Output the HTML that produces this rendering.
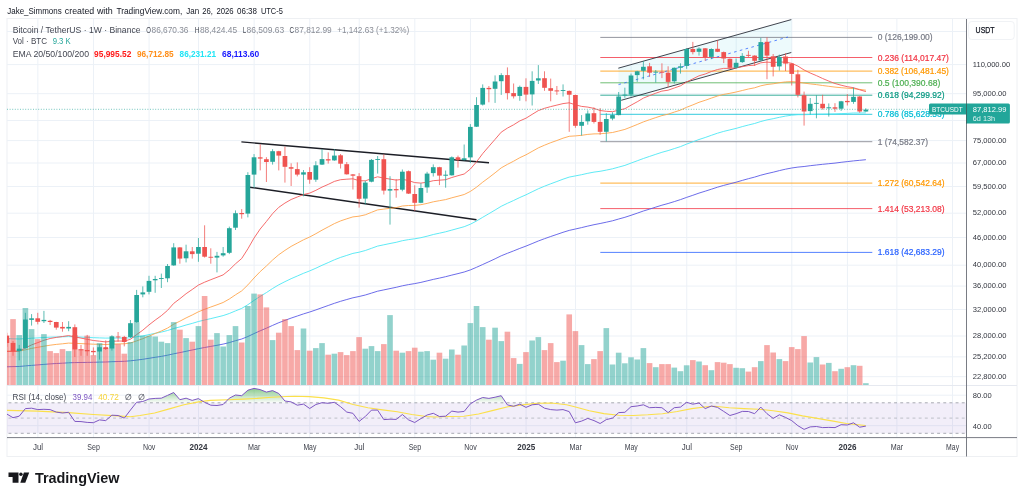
<!DOCTYPE html>
<html><head><meta charset="utf-8"><title>BTCUSDT chart</title>
<style>html,body{margin:0;padding:0;background:#fff}body{width:1024px;height:499px;overflow:hidden;position:relative;font-family:"Liberation Sans",sans-serif}</style></head>
<body>
<svg width="1024" height="499" viewBox="0 0 1024 499" style="position:absolute;left:0;top:0;will-change:transform;font-family:'Liberation Sans',sans-serif">
<defs>
<clipPath id="cm"><rect x="7" y="18.5" width="959.7" height="367.0"/></clipPath>
<clipPath id="cr"><rect x="7" y="385.5" width="959.7" height="52.10000000000002"/></clipPath>
<clipPath id="c70"><rect x="7" y="385.5" width="959.7" height="17.30000000000001"/></clipPath>
<linearGradient id="gg" x1="0" y1="0" x2="0" y2="1" gradientUnits="userSpaceOnUse" ><stop offset="0" stop-color="#4caf50" stop-opacity="1"/></linearGradient>
<linearGradient id="gr" gradientUnits="userSpaceOnUse" x1="0" y1="386" x2="0" y2="402.8"><stop offset="0" stop-color="#4caf50" stop-opacity="0.75"/><stop offset="1" stop-color="#4caf50" stop-opacity="0.03"/></linearGradient>
</defs>
<rect width="1024" height="499" fill="#fff"/>
<rect x="7" y="18.5" width="1010" height="438.0" fill="#fff" stroke="#eef0f3" stroke-width="1"/>
<line x1="37.85" y1="18.5" x2="37.85" y2="437.6" stroke="#ecf1f7" stroke-width="1"/>
<line x1="93.46999999999998" y1="18.5" x2="93.46999999999998" y2="437.6" stroke="#ecf1f7" stroke-width="1"/>
<line x1="149.08999999999997" y1="18.5" x2="149.08999999999997" y2="437.6" stroke="#ecf1f7" stroke-width="1"/>
<line x1="198.52999999999997" y1="18.5" x2="198.52999999999997" y2="437.6" stroke="#ecf1f7" stroke-width="1"/>
<line x1="254.14999999999998" y1="18.5" x2="254.14999999999998" y2="437.6" stroke="#ecf1f7" stroke-width="1"/>
<line x1="309.77000000000004" y1="18.5" x2="309.77000000000004" y2="437.6" stroke="#ecf1f7" stroke-width="1"/>
<line x1="359.21000000000004" y1="18.5" x2="359.21000000000004" y2="437.6" stroke="#ecf1f7" stroke-width="1"/>
<line x1="414.83000000000004" y1="18.5" x2="414.83000000000004" y2="437.6" stroke="#ecf1f7" stroke-width="1"/>
<line x1="470.45000000000005" y1="18.5" x2="470.45000000000005" y2="437.6" stroke="#ecf1f7" stroke-width="1"/>
<line x1="526.07" y1="18.5" x2="526.07" y2="437.6" stroke="#ecf1f7" stroke-width="1"/>
<line x1="575.51" y1="18.5" x2="575.51" y2="437.6" stroke="#ecf1f7" stroke-width="1"/>
<line x1="631.13" y1="18.5" x2="631.13" y2="437.6" stroke="#ecf1f7" stroke-width="1"/>
<line x1="686.75" y1="18.5" x2="686.75" y2="437.6" stroke="#ecf1f7" stroke-width="1"/>
<line x1="736.19" y1="18.5" x2="736.19" y2="437.6" stroke="#ecf1f7" stroke-width="1"/>
<line x1="791.8100000000001" y1="18.5" x2="791.8100000000001" y2="437.6" stroke="#ecf1f7" stroke-width="1"/>
<line x1="847.4300000000001" y1="18.5" x2="847.4300000000001" y2="437.6" stroke="#ecf1f7" stroke-width="1"/>
<line x1="896.87" y1="18.5" x2="896.87" y2="437.6" stroke="#ecf1f7" stroke-width="1"/>
<line x1="952.49" y1="18.5" x2="952.49" y2="437.6" stroke="#ecf1f7" stroke-width="1"/>
<line x1="7" y1="31.5" x2="966.7" y2="31.5" stroke="#ecf1f7" stroke-width="1"/>
<line x1="7" y1="64.6" x2="966.7" y2="64.6" stroke="#ecf1f7" stroke-width="1"/>
<line x1="7" y1="93.7" x2="966.7" y2="93.7" stroke="#ecf1f7" stroke-width="1"/>
<line x1="7" y1="120.5" x2="966.7" y2="120.5" stroke="#ecf1f7" stroke-width="1"/>
<line x1="7" y1="140.6" x2="966.7" y2="140.6" stroke="#ecf1f7" stroke-width="1"/>
<line x1="7" y1="163.0" x2="966.7" y2="163.0" stroke="#ecf1f7" stroke-width="1"/>
<line x1="7" y1="186.5" x2="966.7" y2="186.5" stroke="#ecf1f7" stroke-width="1"/>
<line x1="7" y1="213.2" x2="966.7" y2="213.2" stroke="#ecf1f7" stroke-width="1"/>
<line x1="7" y1="237.5" x2="966.7" y2="237.5" stroke="#ecf1f7" stroke-width="1"/>
<line x1="7" y1="265.2" x2="966.7" y2="265.2" stroke="#ecf1f7" stroke-width="1"/>
<line x1="7" y1="286.1" x2="966.7" y2="286.1" stroke="#ecf1f7" stroke-width="1"/>
<line x1="7" y1="309.5" x2="966.7" y2="309.5" stroke="#ecf1f7" stroke-width="1"/>
<line x1="7" y1="336.0" x2="966.7" y2="336.0" stroke="#ecf1f7" stroke-width="1"/>
<line x1="7" y1="356.9" x2="966.7" y2="356.9" stroke="#ecf1f7" stroke-width="1"/>
<line x1="7" y1="376.7" x2="966.7" y2="376.7" stroke="#ecf1f7" stroke-width="1"/>
<line x1="7" y1="395.2" x2="966.7" y2="395.2" stroke="#ecf1f7" stroke-width="1"/>
<line x1="7" y1="425.7" x2="966.7" y2="425.7" stroke="#ecf1f7" stroke-width="1"/>
<polygon points="618.5,68.1 791.5,19.5 791.5,52.4 618.5,101.0" fill="#4dd0e1" fill-opacity="0.10"/>
<g clip-path="url(#cm)">
<line x1="600.3" y1="37.4" x2="872.3" y2="37.4" stroke="#787b86" stroke-width="0.8"/>
<line x1="600.3" y1="57.5" x2="872.3" y2="57.5" stroke="#f23645" stroke-width="0.8"/>
<line x1="600.3" y1="71.1" x2="872.3" y2="71.1" stroke="#ff9800" stroke-width="0.8"/>
<line x1="600.3" y1="82.8" x2="872.3" y2="82.8" stroke="#4caf50" stroke-width="0.8"/>
<line x1="600.3" y1="95.2" x2="872.3" y2="95.2" stroke="#089981" stroke-width="0.8"/>
<line x1="600.3" y1="114.3" x2="872.3" y2="114.3" stroke="#00bcd4" stroke-width="0.8"/>
<line x1="600.3" y1="141.7" x2="872.3" y2="141.7" stroke="#787b86" stroke-width="0.8"/>
<line x1="600.3" y1="183.1" x2="872.3" y2="183.1" stroke="#ff9800" stroke-width="0.8"/>
<line x1="600.3" y1="208.6" x2="872.3" y2="208.6" stroke="#f23645" stroke-width="0.8"/>
<line x1="600.3" y1="252.4" x2="872.3" y2="252.4" stroke="#2962ff" stroke-width="0.8"/>
<line x1="241.4" y1="141.9" x2="489" y2="162.8" stroke="#1c1e26" stroke-width="1.45"/>
<line x1="249.5" y1="187.2" x2="476.5" y2="219.7" stroke="#1c1e26" stroke-width="1.45"/>
<line x1="618.3" y1="68.2" x2="791.3" y2="19.6" stroke="#2a2e39" stroke-width="0.9"/>
<line x1="621.2" y1="100.3" x2="791.3" y2="52.5" stroke="#2a2e39" stroke-width="0.9"/>
<line x1="618.5" y1="84.6" x2="788" y2="37.0" stroke="#2962ff" stroke-width="0.75" stroke-dasharray="2.6 3.4"/>
<polyline points="6.8,366.8 13.0,366.6 19.2,366.5 25.4,365.9 31.6,365.4 37.8,364.9 43.9,364.4 50.1,363.9 56.3,363.5 62.5,363.2 68.6,362.8 74.8,362.6 81.0,362.5 87.2,362.4 93.4,362.3 99.5,362.1 105.7,362.0 111.9,361.7 118.1,361.5 124.3,361.3 130.4,360.8 136.6,360.1 142.8,359.3 149.0,358.3 155.2,357.3 161.3,356.4 167.5,355.2 173.7,353.8 179.9,352.6 186.1,351.3 192.2,350.0 198.4,348.7 204.6,347.5 210.8,346.4 217.0,345.3 223.1,344.1 229.3,342.6 235.5,340.7 241.7,339.0 247.9,336.5 254.0,333.6 260.2,330.8 266.4,328.2 272.6,325.4 278.8,322.7 284.9,320.4 291.1,318.1 297.3,316.0 303.5,313.9 309.7,312.0 315.9,309.9 322.0,307.7 328.2,305.5 334.4,303.3 340.6,301.3 346.8,299.5 352.9,297.8 359.1,296.5 365.3,295.0 371.5,293.1 377.6,291.2 383.8,289.9 390.0,288.6 396.2,287.3 402.4,285.8 408.6,284.6 414.7,283.6 420.9,282.4 427.1,280.9 433.3,279.4 439.4,278.1 445.6,276.7 451.8,275.1 458.0,273.6 464.2,272.0 470.4,269.9 476.5,267.3 482.7,264.5 488.9,261.7 495.1,258.8 501.2,255.8 507.4,253.3 513.6,250.9 519.8,248.4 526.0,246.1 532.1,243.6 538.3,241.0 544.5,238.7 550.7,236.5 556.9,234.4 563.0,232.3 569.2,230.4 575.4,229.0 581.6,227.6 587.8,226.1 594.0,224.7 600.1,223.5 606.3,222.2 612.5,220.8 618.7,219.0 624.9,217.3 631.0,215.3 637.2,213.2 643.4,211.0 649.6,209.1 655.8,207.1 661.9,205.2 668.1,203.5 674.3,201.6 680.5,199.6 686.6,197.4 692.8,195.3 699.0,193.1 705.2,191.2 711.4,189.2 717.5,187.2 723.7,185.4 729.9,183.8 736.1,182.2 742.3,180.4 748.4,178.7 754.6,177.1 760.8,175.2 767.0,173.6 773.2,172.2 779.4,170.6 785.5,169.2 791.7,168.0 797.9,167.1 804.1,166.5 810.2,165.7 816.4,165.0 822.6,164.3 828.8,163.7 835.0,163.1 841.1,162.3 847.3,161.6 853.5,160.9 859.7,160.3 865.9,159.7" fill="none" stroke="#5b5be6" stroke-width="0.9" stroke-linejoin="round"/>
<polyline points="6.8,338.6 13.0,338.8 19.2,339.0 25.4,338.6 31.6,338.2 37.8,337.9 43.9,337.5 50.1,337.2 56.3,337.0 62.5,336.8 68.6,336.6 74.8,336.9 81.0,337.1 87.2,337.4 93.4,337.7 99.5,337.9 105.7,338.1 111.9,338.0 118.1,338.0 124.3,338.1 130.4,337.8 136.6,336.8 142.8,335.9 149.0,334.6 155.2,333.3 161.3,332.1 167.5,330.5 173.7,328.5 179.9,326.9 186.1,325.0 192.2,323.4 198.4,321.5 204.6,320.0 210.8,318.6 217.0,317.1 223.1,315.6 229.3,313.5 235.5,310.9 241.7,308.4 247.9,304.7 254.0,300.4 260.2,296.4 266.4,292.6 272.6,288.5 278.8,284.8 284.9,281.7 291.1,278.7 297.3,276.0 303.5,273.3 309.7,270.9 315.9,268.2 322.0,265.3 328.2,262.6 334.4,259.8 340.6,257.4 346.8,255.4 352.9,253.4 359.1,252.2 365.3,250.5 371.5,248.3 377.6,246.1 383.8,244.8 390.0,243.5 396.2,242.3 402.4,240.7 408.6,239.6 414.7,238.8 420.9,237.7 427.1,236.2 433.3,234.5 439.4,233.2 445.6,231.8 451.8,230.1 458.0,228.4 464.2,226.7 470.4,224.2 476.5,221.0 482.7,217.3 488.9,213.7 495.1,210.0 501.2,206.3 507.4,203.3 513.6,200.5 519.8,197.5 526.0,194.8 532.1,191.8 538.3,188.8 544.5,186.2 550.7,183.8 556.9,181.5 563.0,179.2 569.2,177.1 575.4,175.9 581.6,174.7 587.8,173.3 594.0,172.1 600.1,171.3 606.3,170.1 612.5,168.8 618.7,167.1 624.9,165.4 631.0,163.1 637.2,160.8 643.4,158.5 649.6,156.4 655.8,154.3 661.9,152.3 668.1,150.6 674.3,148.6 680.5,146.6 686.6,144.1 692.8,141.8 699.0,139.5 705.2,137.5 711.4,135.3 717.5,133.2 723.7,131.4 729.9,129.9 736.1,128.4 742.3,126.6 748.4,125.0 754.6,123.5 760.8,121.5 767.0,119.9 773.2,118.7 779.4,117.3 785.5,116.1 791.7,115.2 797.9,114.7 804.1,114.7 810.2,114.5 816.4,114.2 822.6,114.1 828.8,114.0 835.0,113.9 841.1,113.6 847.3,113.4 853.5,113.0 859.7,113.0 865.9,112.9" fill="none" stroke="#4de8f4" stroke-width="0.9" stroke-linejoin="round"/>
<polyline points="6.8,351.2 13.0,351.2 19.2,351.1 25.4,349.8 31.6,348.4 37.8,347.3 43.9,346.2 50.1,345.2 56.3,344.4 62.5,343.8 68.6,343.1 74.8,343.3 81.0,343.6 87.2,343.9 93.4,344.2 99.5,344.3 105.7,344.5 111.9,344.2 118.1,343.9 124.3,343.8 130.4,343.0 136.6,340.9 142.8,338.7 149.0,336.1 155.2,333.5 161.3,331.0 167.5,328.1 173.7,324.2 179.9,321.2 186.1,317.9 192.2,315.0 198.4,311.8 204.6,309.3 210.8,307.0 217.0,304.8 223.1,302.5 229.3,299.0 235.5,294.8 241.7,290.9 247.9,284.9 254.0,278.0 260.2,271.6 266.4,266.0 272.6,260.0 278.8,254.7 284.9,250.4 291.1,246.4 297.3,243.1 303.5,239.8 309.7,237.0 315.9,233.7 322.0,230.2 328.2,226.9 334.4,223.6 340.6,220.9 346.8,218.8 352.9,216.9 359.1,216.2 365.3,214.8 371.5,212.3 377.6,209.9 383.8,209.1 390.0,208.3 396.2,207.6 402.4,206.0 408.6,205.5 414.7,205.4 420.9,204.7 427.1,203.4 433.3,201.8 439.4,200.7 445.6,199.6 451.8,197.8 458.0,196.2 464.2,194.5 470.4,191.4 476.5,187.2 482.7,182.2 488.9,177.6 495.1,172.8 501.2,167.9 507.4,164.4 513.6,161.2 519.8,157.7 526.0,154.8 532.1,151.4 538.3,147.9 544.5,145.2 550.7,142.7 556.9,140.5 563.0,138.2 569.2,136.3 575.4,135.9 581.6,135.3 587.8,134.4 594.0,133.9 600.1,133.8 606.3,133.2 612.5,132.5 618.7,131.0 624.9,129.4 631.0,127.0 637.2,124.5 643.4,121.9 649.6,119.7 655.8,117.6 661.9,115.6 668.1,114.2 674.3,112.1 680.5,110.1 686.6,107.3 692.8,104.9 699.0,102.3 705.2,100.3 711.4,98.1 717.5,96.0 723.7,94.4 729.9,93.3 736.1,92.0 742.3,90.5 748.4,89.0 754.6,87.8 760.8,85.8 767.0,84.5 773.2,83.8 779.4,82.7 785.5,81.9 791.7,81.6 797.9,82.1 804.1,83.1 810.2,83.9 816.4,84.6 822.6,85.5 828.8,86.3 835.0,87.1 841.1,87.7 847.3,88.2 853.5,88.6 859.7,89.4 865.9,90.2" fill="none" stroke="#ffa64d" stroke-width="0.9" stroke-linejoin="round"/>
<polyline points="6.8,351.4 13.0,351.4 19.2,351.1 25.4,347.9 31.6,344.9 37.8,342.6 43.9,340.3 50.1,338.5 56.3,337.4 62.5,336.5 68.6,335.6 74.8,336.9 81.0,338.1 87.2,339.3 93.4,340.5 99.5,341.2 105.7,341.9 111.9,341.3 118.1,341.0 124.3,341.1 130.4,339.3 136.6,334.6 142.8,330.2 149.0,324.9 155.2,320.1 161.3,315.7 167.5,310.4 173.7,303.4 179.9,298.7 186.1,293.7 192.2,289.5 198.4,285.1 204.6,282.2 210.8,279.7 217.0,277.3 223.1,274.9 229.3,269.9 235.5,263.8 241.7,258.5 247.9,248.8 254.0,238.1 260.2,229.0 266.4,221.5 272.6,213.6 278.8,207.3 284.9,203.1 291.1,199.5 297.3,197.0 303.5,194.5 309.7,193.1 315.9,190.3 322.0,187.1 328.2,184.4 334.4,181.4 340.6,179.7 346.8,179.2 352.9,178.8 359.1,180.7 365.3,180.8 371.5,178.7 377.6,176.8 383.8,178.1 390.0,179.1 396.2,180.1 402.4,179.3 408.6,180.6 414.7,182.6 420.9,183.1 427.1,182.2 433.3,180.7 439.4,180.2 445.6,179.7 451.8,177.5 458.0,175.7 464.2,174.0 470.4,169.0 476.5,161.9 482.7,153.6 488.9,146.4 495.1,139.3 501.2,132.2 507.4,128.1 513.6,124.8 519.8,120.9 526.0,118.2 532.1,114.4 538.3,110.6 544.5,108.3 550.7,106.6 556.9,105.1 563.0,103.6 569.2,102.8 575.4,104.8 581.6,106.4 587.8,107.1 594.0,108.4 600.1,110.5 606.3,111.3 612.5,111.7 618.7,110.2 624.9,108.7 631.0,105.2 637.2,101.8 643.4,98.1 649.6,95.6 655.8,93.2 661.9,91.1 668.1,90.2 674.3,88.0 680.5,85.8 686.6,82.0 692.8,78.9 699.0,75.8 705.2,74.0 711.4,71.5 717.5,69.5 723.7,68.4 729.9,68.4 736.1,67.8 742.3,66.7 748.4,65.6 754.6,65.2 760.8,62.8 767.0,62.1 773.2,62.6 779.4,62.0 785.5,62.2 791.7,63.3 797.9,66.1 804.1,70.0 810.2,73.0 816.4,75.6 822.6,78.5 828.8,81.1 835.0,83.5 841.1,85.2 847.3,86.7 853.5,87.7 859.7,89.8 865.9,91.6" fill="none" stroke="#f45b5b" stroke-width="0.9" stroke-linejoin="round"/>
<line x1="6.85" y1="332.8" x2="6.85" y2="346.9" stroke="#ef5350" stroke-width="0.75"/>
<rect x="4.50" y="335.6" width="4.7" height="7.4" fill="#ef5350"/>
<line x1="13.03" y1="341.0" x2="13.03" y2="355.8" stroke="#ef5350" stroke-width="0.75"/>
<rect x="10.68" y="342.9" width="4.7" height="8.4" fill="#ef5350"/>
<line x1="19.21" y1="344.9" x2="19.21" y2="360.3" stroke="#26a69a" stroke-width="0.75"/>
<rect x="16.86" y="348.7" width="4.7" height="2.3" fill="#26a69a"/>
<line x1="25.39" y1="312.8" x2="25.39" y2="348.5" stroke="#26a69a" stroke-width="0.75"/>
<rect x="23.04" y="319.5" width="4.7" height="28.5" fill="#26a69a"/>
<line x1="31.57" y1="314.1" x2="31.57" y2="325.6" stroke="#26a69a" stroke-width="0.75"/>
<rect x="29.22" y="318.3" width="4.7" height="1.6" fill="#26a69a"/>
<line x1="37.75" y1="312.8" x2="37.75" y2="324.4" stroke="#ef5350" stroke-width="0.75"/>
<rect x="35.40" y="318.3" width="4.7" height="3.5" fill="#ef5350"/>
<line x1="43.93" y1="310.9" x2="43.93" y2="323.0" stroke="#26a69a" stroke-width="0.75"/>
<rect x="41.58" y="319.9" width="4.7" height="1.3" fill="#26a69a"/>
<line x1="50.11" y1="319.9" x2="50.11" y2="325.0" stroke="#ef5350" stroke-width="0.75"/>
<rect x="47.76" y="320.8" width="4.7" height="1.2" fill="#ef5350"/>
<line x1="56.29" y1="321.8" x2="56.29" y2="329.7" stroke="#ef5350" stroke-width="0.75"/>
<rect x="53.94" y="322.0" width="4.7" height="5.6" fill="#ef5350"/>
<line x1="62.47" y1="322.0" x2="62.47" y2="331.7" stroke="#ef5350" stroke-width="0.75"/>
<rect x="60.12" y="326.9" width="4.7" height="1.6" fill="#ef5350"/>
<line x1="68.65" y1="321.2" x2="68.65" y2="331.2" stroke="#26a69a" stroke-width="0.75"/>
<rect x="66.30" y="326.9" width="4.7" height="1.6" fill="#26a69a"/>
<line x1="74.83" y1="324.4" x2="74.83" y2="357.0" stroke="#ef5350" stroke-width="0.75"/>
<rect x="72.48" y="327.2" width="4.7" height="22.2" fill="#ef5350"/>
<line x1="81.01" y1="344.9" x2="81.01" y2="355.8" stroke="#ef5350" stroke-width="0.75"/>
<rect x="78.66" y="349.4" width="4.7" height="0.9" fill="#ef5350"/>
<line x1="87.19" y1="334.9" x2="87.19" y2="355.8" stroke="#ef5350" stroke-width="0.75"/>
<rect x="84.84" y="350.0" width="4.7" height="1.3" fill="#ef5350"/>
<line x1="93.37" y1="347.4" x2="93.37" y2="355.4" stroke="#ef5350" stroke-width="0.75"/>
<rect x="91.02" y="350.9" width="4.7" height="1.3" fill="#ef5350"/>
<line x1="99.55" y1="344.2" x2="99.55" y2="359.6" stroke="#26a69a" stroke-width="0.75"/>
<rect x="97.20" y="347.2" width="4.7" height="4.3" fill="#26a69a"/>
<line x1="105.73" y1="340.4" x2="105.73" y2="350.0" stroke="#ef5350" stroke-width="0.75"/>
<rect x="103.38" y="347.2" width="4.7" height="1.8" fill="#ef5350"/>
<line x1="111.91" y1="335.3" x2="111.91" y2="350.6" stroke="#26a69a" stroke-width="0.75"/>
<rect x="109.56" y="336.3" width="4.7" height="12.2" fill="#26a69a"/>
<line x1="118.09" y1="332.0" x2="118.09" y2="341.7" stroke="#ef5350" stroke-width="0.75"/>
<rect x="115.74" y="336.5" width="4.7" height="0.9" fill="#ef5350"/>
<line x1="124.27" y1="335.9" x2="124.27" y2="346.4" stroke="#ef5350" stroke-width="0.75"/>
<rect x="121.92" y="336.9" width="4.7" height="5.1" fill="#ef5350"/>
<line x1="130.45" y1="320.0" x2="130.45" y2="338.0" stroke="#26a69a" stroke-width="0.75"/>
<rect x="128.10" y="323.2" width="4.7" height="13.8" fill="#26a69a"/>
<line x1="136.63" y1="289.9" x2="136.63" y2="322.8" stroke="#26a69a" stroke-width="0.75"/>
<rect x="134.28" y="295.0" width="4.7" height="27.3" fill="#26a69a"/>
<line x1="142.81" y1="286.4" x2="142.81" y2="297.3" stroke="#26a69a" stroke-width="0.75"/>
<rect x="140.46" y="292.4" width="4.7" height="2.0" fill="#26a69a"/>
<line x1="148.99" y1="275.8" x2="148.99" y2="294.4" stroke="#26a69a" stroke-width="0.75"/>
<rect x="146.64" y="280.9" width="4.7" height="10.9" fill="#26a69a"/>
<line x1="155.17" y1="275.8" x2="155.17" y2="292.8" stroke="#26a69a" stroke-width="0.75"/>
<rect x="152.82" y="279.0" width="4.7" height="1.3" fill="#26a69a"/>
<line x1="161.35" y1="273.6" x2="161.35" y2="288.0" stroke="#26a69a" stroke-width="0.75"/>
<rect x="159.00" y="278.1" width="4.7" height="0.9" fill="#26a69a"/>
<line x1="167.53" y1="264.0" x2="167.53" y2="282.2" stroke="#26a69a" stroke-width="0.75"/>
<rect x="165.18" y="266.0" width="4.7" height="12.3" fill="#26a69a"/>
<line x1="173.71" y1="243.2" x2="173.71" y2="265.8" stroke="#26a69a" stroke-width="0.75"/>
<rect x="171.36" y="247.4" width="4.7" height="18.0" fill="#26a69a"/>
<line x1="179.89" y1="247.0" x2="179.89" y2="263.7" stroke="#ef5350" stroke-width="0.75"/>
<rect x="177.54" y="247.4" width="4.7" height="11.2" fill="#ef5350"/>
<line x1="186.07" y1="244.7" x2="186.07" y2="262.4" stroke="#26a69a" stroke-width="0.75"/>
<rect x="183.72" y="251.3" width="4.7" height="7.0" fill="#26a69a"/>
<line x1="192.25" y1="247.0" x2="192.25" y2="258.6" stroke="#ef5350" stroke-width="0.75"/>
<rect x="189.90" y="251.3" width="4.7" height="2.8" fill="#ef5350"/>
<line x1="198.43" y1="238.0" x2="198.43" y2="261.8" stroke="#26a69a" stroke-width="0.75"/>
<rect x="196.08" y="247.0" width="4.7" height="6.7" fill="#26a69a"/>
<line x1="204.61" y1="225.3" x2="204.61" y2="257.6" stroke="#ef5350" stroke-width="0.75"/>
<rect x="202.26" y="247.0" width="4.7" height="9.7" fill="#ef5350"/>
<line x1="210.79" y1="248.3" x2="210.79" y2="263.7" stroke="#ef5350" stroke-width="0.75"/>
<rect x="208.44" y="256.8" width="4.7" height="0.9" fill="#ef5350"/>
<line x1="216.97" y1="251.9" x2="216.97" y2="272.4" stroke="#26a69a" stroke-width="0.75"/>
<rect x="214.62" y="255.8" width="4.7" height="1.8" fill="#26a69a"/>
<line x1="223.15" y1="247.0" x2="223.15" y2="256.7" stroke="#26a69a" stroke-width="0.75"/>
<rect x="220.80" y="253.2" width="4.7" height="2.2" fill="#26a69a"/>
<line x1="229.33" y1="226.6" x2="229.33" y2="254.1" stroke="#26a69a" stroke-width="0.75"/>
<rect x="226.98" y="228.2" width="4.7" height="24.6" fill="#26a69a"/>
<line x1="235.51" y1="210.4" x2="235.51" y2="230.0" stroke="#26a69a" stroke-width="0.75"/>
<rect x="233.16" y="213.2" width="4.7" height="14.5" fill="#26a69a"/>
<line x1="241.69" y1="209.1" x2="241.69" y2="218.7" stroke="#ef5350" stroke-width="0.75"/>
<rect x="239.34" y="213.0" width="4.7" height="1.2" fill="#ef5350"/>
<line x1="247.87" y1="172.2" x2="247.87" y2="217.4" stroke="#26a69a" stroke-width="0.75"/>
<rect x="245.52" y="175.0" width="4.7" height="38.6" fill="#26a69a"/>
<line x1="254.05" y1="154.1" x2="254.05" y2="187.6" stroke="#26a69a" stroke-width="0.75"/>
<rect x="251.70" y="157.3" width="4.7" height="17.3" fill="#26a69a"/>
<line x1="260.23" y1="144.4" x2="260.23" y2="170.4" stroke="#ef5350" stroke-width="0.75"/>
<rect x="257.88" y="157.3" width="4.7" height="1.3" fill="#ef5350"/>
<line x1="266.41" y1="157.2" x2="266.41" y2="182.0" stroke="#ef5350" stroke-width="0.75"/>
<rect x="264.06" y="159.2" width="4.7" height="2.8" fill="#ef5350"/>
<line x1="272.59" y1="149.2" x2="272.59" y2="164.6" stroke="#26a69a" stroke-width="0.75"/>
<rect x="270.24" y="151.2" width="4.7" height="10.6" fill="#26a69a"/>
<line x1="278.77" y1="150.8" x2="278.77" y2="170.4" stroke="#ef5350" stroke-width="0.75"/>
<rect x="276.42" y="151.2" width="4.7" height="4.4" fill="#ef5350"/>
<line x1="284.95" y1="146.7" x2="284.95" y2="182.6" stroke="#ef5350" stroke-width="0.75"/>
<rect x="282.60" y="156.0" width="4.7" height="10.8" fill="#ef5350"/>
<line x1="291.13" y1="163.3" x2="291.13" y2="186.0" stroke="#ef5350" stroke-width="0.75"/>
<rect x="288.78" y="167.2" width="4.7" height="1.5" fill="#ef5350"/>
<line x1="297.31" y1="162.4" x2="297.31" y2="176.4" stroke="#ef5350" stroke-width="0.75"/>
<rect x="294.96" y="169.1" width="4.7" height="5.5" fill="#ef5350"/>
<line x1="303.49" y1="170.0" x2="303.49" y2="196.3" stroke="#26a69a" stroke-width="0.75"/>
<rect x="301.14" y="172.3" width="4.7" height="2.3" fill="#26a69a"/>
<line x1="309.67" y1="167.2" x2="309.67" y2="183.8" stroke="#ef5350" stroke-width="0.75"/>
<rect x="307.32" y="172.0" width="4.7" height="7.7" fill="#ef5350"/>
<line x1="315.85" y1="161.2" x2="315.85" y2="181.9" stroke="#26a69a" stroke-width="0.75"/>
<rect x="313.50" y="165.3" width="4.7" height="14.4" fill="#26a69a"/>
<line x1="322.03" y1="149.2" x2="322.03" y2="165.0" stroke="#26a69a" stroke-width="0.75"/>
<rect x="319.68" y="159.1" width="4.7" height="5.5" fill="#26a69a"/>
<line x1="328.21" y1="152.4" x2="328.21" y2="163.6" stroke="#ef5350" stroke-width="0.75"/>
<rect x="325.86" y="159.2" width="4.7" height="1.3" fill="#ef5350"/>
<line x1="334.39" y1="149.2" x2="334.39" y2="160.8" stroke="#26a69a" stroke-width="0.75"/>
<rect x="332.04" y="155.6" width="4.7" height="4.8" fill="#26a69a"/>
<line x1="340.57" y1="154.0" x2="340.57" y2="168.5" stroke="#ef5350" stroke-width="0.75"/>
<rect x="338.22" y="155.3" width="4.7" height="8.4" fill="#ef5350"/>
<line x1="346.75" y1="162.0" x2="346.75" y2="174.6" stroke="#ef5350" stroke-width="0.75"/>
<rect x="344.40" y="164.2" width="4.7" height="10.1" fill="#ef5350"/>
<line x1="352.93" y1="174.0" x2="352.93" y2="189.5" stroke="#ef5350" stroke-width="0.75"/>
<rect x="350.58" y="174.4" width="4.7" height="1.3" fill="#ef5350"/>
<line x1="359.11" y1="173.1" x2="359.11" y2="207.6" stroke="#ef5350" stroke-width="0.75"/>
<rect x="356.76" y="176.2" width="4.7" height="22.6" fill="#ef5350"/>
<line x1="365.29" y1="180.8" x2="365.29" y2="204.4" stroke="#26a69a" stroke-width="0.75"/>
<rect x="362.94" y="182.6" width="4.7" height="16.0" fill="#26a69a"/>
<line x1="371.47" y1="159.0" x2="371.47" y2="182.3" stroke="#26a69a" stroke-width="0.75"/>
<rect x="369.12" y="159.9" width="4.7" height="21.8" fill="#26a69a"/>
<line x1="377.65" y1="156.0" x2="377.65" y2="173.6" stroke="#26a69a" stroke-width="0.75"/>
<rect x="375.30" y="159.0" width="4.7" height="0.9" fill="#26a69a"/>
<line x1="383.83" y1="154.4" x2="383.83" y2="194.5" stroke="#ef5350" stroke-width="0.75"/>
<rect x="381.48" y="159.2" width="4.7" height="31.4" fill="#ef5350"/>
<line x1="390.01" y1="176.2" x2="390.01" y2="224.6" stroke="#26a69a" stroke-width="0.75"/>
<rect x="387.66" y="189.1" width="4.7" height="1.5" fill="#26a69a"/>
<line x1="396.19" y1="179.1" x2="396.19" y2="197.7" stroke="#ef5350" stroke-width="0.75"/>
<rect x="393.84" y="189.1" width="4.7" height="1.2" fill="#ef5350"/>
<line x1="402.37" y1="169.5" x2="402.37" y2="191.3" stroke="#26a69a" stroke-width="0.75"/>
<rect x="400.02" y="171.7" width="4.7" height="18.0" fill="#26a69a"/>
<line x1="408.55" y1="170.5" x2="408.55" y2="194.0" stroke="#ef5350" stroke-width="0.75"/>
<rect x="406.20" y="171.2" width="4.7" height="22.4" fill="#ef5350"/>
<line x1="414.73" y1="185.3" x2="414.73" y2="210.8" stroke="#ef5350" stroke-width="0.75"/>
<rect x="412.38" y="194.0" width="4.7" height="8.8" fill="#ef5350"/>
<line x1="420.91" y1="183.2" x2="420.91" y2="203.2" stroke="#26a69a" stroke-width="0.75"/>
<rect x="418.56" y="188.0" width="4.7" height="14.8" fill="#26a69a"/>
<line x1="427.09" y1="171.8" x2="427.09" y2="192.8" stroke="#26a69a" stroke-width="0.75"/>
<rect x="424.74" y="173.6" width="4.7" height="13.8" fill="#26a69a"/>
<line x1="433.27" y1="164.4" x2="433.27" y2="176.5" stroke="#26a69a" stroke-width="0.75"/>
<rect x="430.92" y="167.2" width="4.7" height="5.9" fill="#26a69a"/>
<line x1="439.45" y1="166.8" x2="439.45" y2="185.1" stroke="#ef5350" stroke-width="0.75"/>
<rect x="437.10" y="167.2" width="4.7" height="8.4" fill="#ef5350"/>
<line x1="445.63" y1="170.5" x2="445.63" y2="187.7" stroke="#26a69a" stroke-width="0.75"/>
<rect x="443.28" y="174.7" width="4.7" height="1.0" fill="#26a69a"/>
<line x1="451.81" y1="156.4" x2="451.81" y2="175.6" stroke="#26a69a" stroke-width="0.75"/>
<rect x="449.46" y="157.3" width="4.7" height="18.0" fill="#26a69a"/>
<line x1="457.99" y1="155.6" x2="457.99" y2="167.6" stroke="#ef5350" stroke-width="0.75"/>
<rect x="455.64" y="157.3" width="4.7" height="2.6" fill="#ef5350"/>
<line x1="464.17" y1="144.5" x2="464.17" y2="160.5" stroke="#26a69a" stroke-width="0.75"/>
<rect x="461.82" y="158.3" width="4.7" height="1.8" fill="#26a69a"/>
<line x1="470.35" y1="124.1" x2="470.35" y2="163.1" stroke="#26a69a" stroke-width="0.75"/>
<rect x="468.00" y="126.9" width="4.7" height="30.5" fill="#26a69a"/>
<line x1="476.53" y1="97.2" x2="476.53" y2="127.0" stroke="#26a69a" stroke-width="0.75"/>
<rect x="474.18" y="105.0" width="4.7" height="21.7" fill="#26a69a"/>
<line x1="482.71" y1="84.4" x2="482.71" y2="105.5" stroke="#26a69a" stroke-width="0.75"/>
<rect x="480.36" y="87.9" width="4.7" height="16.7" fill="#26a69a"/>
<line x1="488.89" y1="86.0" x2="488.89" y2="102.3" stroke="#ef5350" stroke-width="0.75"/>
<rect x="486.54" y="87.9" width="4.7" height="1.3" fill="#ef5350"/>
<line x1="495.07" y1="75.4" x2="495.07" y2="102.9" stroke="#26a69a" stroke-width="0.75"/>
<rect x="492.72" y="81.5" width="4.7" height="7.3" fill="#26a69a"/>
<line x1="501.25" y1="73.2" x2="501.25" y2="94.9" stroke="#26a69a" stroke-width="0.75"/>
<rect x="498.90" y="75.1" width="4.7" height="6.1" fill="#26a69a"/>
<line x1="507.43" y1="67.4" x2="507.43" y2="99.5" stroke="#ef5350" stroke-width="0.75"/>
<rect x="505.08" y="75.1" width="4.7" height="18.0" fill="#ef5350"/>
<line x1="513.61" y1="83.5" x2="513.61" y2="98.5" stroke="#ef5350" stroke-width="0.75"/>
<rect x="511.26" y="93.1" width="4.7" height="3.2" fill="#ef5350"/>
<line x1="519.79" y1="85.6" x2="519.79" y2="100.8" stroke="#26a69a" stroke-width="0.75"/>
<rect x="517.44" y="86.9" width="4.7" height="9.0" fill="#26a69a"/>
<line x1="525.97" y1="78.3" x2="525.97" y2="101.3" stroke="#ef5350" stroke-width="0.75"/>
<rect x="523.62" y="86.9" width="4.7" height="7.7" fill="#ef5350"/>
<line x1="532.15" y1="71.3" x2="532.15" y2="105.5" stroke="#26a69a" stroke-width="0.75"/>
<rect x="529.80" y="80.9" width="4.7" height="13.5" fill="#26a69a"/>
<line x1="538.33" y1="65.1" x2="538.33" y2="84.0" stroke="#26a69a" stroke-width="0.75"/>
<rect x="535.98" y="78.3" width="4.7" height="2.2" fill="#26a69a"/>
<line x1="544.51" y1="71.3" x2="544.51" y2="90.8" stroke="#ef5350" stroke-width="0.75"/>
<rect x="542.16" y="78.2" width="4.7" height="9.6" fill="#ef5350"/>
<line x1="550.69" y1="78.6" x2="550.69" y2="101.3" stroke="#ef5350" stroke-width="0.75"/>
<rect x="548.34" y="88.2" width="4.7" height="2.6" fill="#ef5350"/>
<line x1="556.87" y1="86.0" x2="556.87" y2="94.9" stroke="#ef5350" stroke-width="0.75"/>
<rect x="554.52" y="90.4" width="4.7" height="1.0" fill="#ef5350"/>
<line x1="563.05" y1="84.4" x2="563.05" y2="96.5" stroke="#26a69a" stroke-width="0.75"/>
<rect x="560.70" y="90.1" width="4.7" height="0.9" fill="#26a69a"/>
<line x1="569.23" y1="90.5" x2="569.23" y2="131.8" stroke="#ef5350" stroke-width="0.75"/>
<rect x="566.88" y="90.9" width="4.7" height="3.8" fill="#ef5350"/>
<line x1="575.41" y1="94.6" x2="575.41" y2="127.8" stroke="#ef5350" stroke-width="0.75"/>
<rect x="573.06" y="95.0" width="4.7" height="30.8" fill="#ef5350"/>
<line x1="581.59" y1="115.1" x2="581.59" y2="135.6" stroke="#26a69a" stroke-width="0.75"/>
<rect x="579.24" y="121.9" width="4.7" height="3.9" fill="#26a69a"/>
<line x1="587.77" y1="110.4" x2="587.77" y2="124.7" stroke="#26a69a" stroke-width="0.75"/>
<rect x="585.42" y="113.5" width="4.7" height="7.8" fill="#26a69a"/>
<line x1="593.95" y1="107.4" x2="593.95" y2="123.5" stroke="#ef5350" stroke-width="0.75"/>
<rect x="591.60" y="113.2" width="4.7" height="8.7" fill="#ef5350"/>
<line x1="600.13" y1="108.1" x2="600.13" y2="134.7" stroke="#ef5350" stroke-width="0.75"/>
<rect x="597.78" y="121.9" width="4.7" height="9.9" fill="#ef5350"/>
<line x1="606.31" y1="113.2" x2="606.31" y2="141.4" stroke="#26a69a" stroke-width="0.75"/>
<rect x="603.96" y="119.0" width="4.7" height="12.8" fill="#26a69a"/>
<line x1="612.49" y1="112.3" x2="612.49" y2="120.3" stroke="#26a69a" stroke-width="0.75"/>
<rect x="610.14" y="115.1" width="4.7" height="3.5" fill="#26a69a"/>
<line x1="618.67" y1="92.0" x2="618.67" y2="115.4" stroke="#26a69a" stroke-width="0.75"/>
<rect x="616.32" y="96.5" width="4.7" height="18.6" fill="#26a69a"/>
<line x1="624.85" y1="87.7" x2="624.85" y2="97.8" stroke="#26a69a" stroke-width="0.75"/>
<rect x="622.50" y="94.6" width="4.7" height="1.0" fill="#26a69a"/>
<line x1="631.03" y1="73.6" x2="631.03" y2="96.5" stroke="#26a69a" stroke-width="0.75"/>
<rect x="628.68" y="75.5" width="4.7" height="19.1" fill="#26a69a"/>
<line x1="637.21" y1="70.8" x2="637.21" y2="81.9" stroke="#26a69a" stroke-width="0.75"/>
<rect x="634.86" y="71.3" width="4.7" height="3.8" fill="#26a69a"/>
<line x1="643.39" y1="61.2" x2="643.39" y2="79.4" stroke="#26a69a" stroke-width="0.75"/>
<rect x="641.04" y="66.8" width="4.7" height="4.0" fill="#26a69a"/>
<line x1="649.57" y1="62.9" x2="649.57" y2="76.8" stroke="#ef5350" stroke-width="0.75"/>
<rect x="647.22" y="66.3" width="4.7" height="6.4" fill="#ef5350"/>
<line x1="655.75" y1="70.0" x2="655.75" y2="82.6" stroke="#26a69a" stroke-width="0.75"/>
<rect x="653.40" y="71.7" width="4.7" height="0.9" fill="#26a69a"/>
<line x1="661.93" y1="63.3" x2="661.93" y2="78.1" stroke="#ef5350" stroke-width="0.75"/>
<rect x="659.58" y="71.8" width="4.7" height="0.9" fill="#ef5350"/>
<line x1="668.11" y1="66.3" x2="668.11" y2="87.1" stroke="#ef5350" stroke-width="0.75"/>
<rect x="665.76" y="72.7" width="4.7" height="9.2" fill="#ef5350"/>
<line x1="674.29" y1="67.4" x2="674.29" y2="83.6" stroke="#26a69a" stroke-width="0.75"/>
<rect x="671.94" y="67.8" width="4.7" height="13.5" fill="#26a69a"/>
<line x1="680.47" y1="63.3" x2="680.47" y2="73.6" stroke="#26a69a" stroke-width="0.75"/>
<rect x="678.12" y="66.3" width="4.7" height="1.5" fill="#26a69a"/>
<line x1="686.65" y1="48.2" x2="686.65" y2="68.8" stroke="#26a69a" stroke-width="0.75"/>
<rect x="684.30" y="49.0" width="4.7" height="16.9" fill="#26a69a"/>
<line x1="692.83" y1="41.9" x2="692.83" y2="54.4" stroke="#ef5350" stroke-width="0.75"/>
<rect x="690.48" y="49.0" width="4.7" height="3.1" fill="#ef5350"/>
<line x1="699.01" y1="47.3" x2="699.01" y2="55.6" stroke="#26a69a" stroke-width="0.75"/>
<rect x="696.66" y="48.6" width="4.7" height="3.2" fill="#26a69a"/>
<line x1="705.19" y1="48.0" x2="705.19" y2="60.8" stroke="#ef5350" stroke-width="0.75"/>
<rect x="702.84" y="48.3" width="4.7" height="9.0" fill="#ef5350"/>
<line x1="711.37" y1="48.3" x2="711.37" y2="59.2" stroke="#26a69a" stroke-width="0.75"/>
<rect x="709.02" y="49.0" width="4.7" height="7.9" fill="#26a69a"/>
<line x1="717.55" y1="40.3" x2="717.55" y2="52.1" stroke="#ef5350" stroke-width="0.75"/>
<rect x="715.20" y="48.8" width="4.7" height="3.0" fill="#ef5350"/>
<line x1="723.73" y1="51.5" x2="723.73" y2="63.1" stroke="#ef5350" stroke-width="0.75"/>
<rect x="721.38" y="52.1" width="4.7" height="6.4" fill="#ef5350"/>
<line x1="729.91" y1="58.5" x2="729.91" y2="68.5" stroke="#ef5350" stroke-width="0.75"/>
<rect x="727.56" y="58.8" width="4.7" height="9.0" fill="#ef5350"/>
<line x1="736.09" y1="58.5" x2="736.09" y2="68.2" stroke="#26a69a" stroke-width="0.75"/>
<rect x="733.74" y="62.8" width="4.7" height="4.9" fill="#26a69a"/>
<line x1="742.27" y1="53.1" x2="742.27" y2="62.9" stroke="#26a69a" stroke-width="0.75"/>
<rect x="739.92" y="55.9" width="4.7" height="6.2" fill="#26a69a"/>
<line x1="748.45" y1="50.8" x2="748.45" y2="57.2" stroke="#ef5350" stroke-width="0.75"/>
<rect x="746.10" y="54.9" width="4.7" height="0.9" fill="#ef5350"/>
<line x1="754.63" y1="55.3" x2="754.63" y2="65.9" stroke="#ef5350" stroke-width="0.75"/>
<rect x="752.28" y="55.6" width="4.7" height="5.2" fill="#ef5350"/>
<line x1="760.81" y1="37.9" x2="760.81" y2="60.8" stroke="#26a69a" stroke-width="0.75"/>
<rect x="758.46" y="42.1" width="4.7" height="18.3" fill="#26a69a"/>
<line x1="766.99" y1="37.3" x2="766.99" y2="79.2" stroke="#ef5350" stroke-width="0.75"/>
<rect x="764.64" y="41.8" width="4.7" height="13.8" fill="#ef5350"/>
<line x1="773.17" y1="54.0" x2="773.17" y2="76.4" stroke="#ef5350" stroke-width="0.75"/>
<rect x="770.82" y="56.3" width="4.7" height="10.5" fill="#ef5350"/>
<line x1="779.35" y1="54.6" x2="779.35" y2="70.6" stroke="#26a69a" stroke-width="0.75"/>
<rect x="777.00" y="56.9" width="4.7" height="9.5" fill="#26a69a"/>
<line x1="785.53" y1="53.3" x2="785.53" y2="71.0" stroke="#ef5350" stroke-width="0.75"/>
<rect x="783.18" y="56.5" width="4.7" height="7.1" fill="#ef5350"/>
<line x1="791.71" y1="63.0" x2="791.71" y2="85.5" stroke="#ef5350" stroke-width="0.75"/>
<rect x="789.36" y="63.6" width="4.7" height="10.3" fill="#ef5350"/>
<line x1="797.89" y1="69.8" x2="797.89" y2="97.4" stroke="#ef5350" stroke-width="0.75"/>
<rect x="795.54" y="74.3" width="4.7" height="20.5" fill="#ef5350"/>
<line x1="804.07" y1="91.6" x2="804.07" y2="125.6" stroke="#ef5350" stroke-width="0.75"/>
<rect x="801.72" y="95.2" width="4.7" height="16.3" fill="#ef5350"/>
<line x1="810.25" y1="98.0" x2="810.25" y2="114.5" stroke="#26a69a" stroke-width="0.75"/>
<rect x="807.90" y="103.8" width="4.7" height="7.3" fill="#26a69a"/>
<line x1="816.43" y1="95.2" x2="816.43" y2="118.3" stroke="#26a69a" stroke-width="0.75"/>
<rect x="814.08" y="102.9" width="4.7" height="0.9" fill="#26a69a"/>
<line x1="822.61" y1="94.8" x2="822.61" y2="109.6" stroke="#ef5350" stroke-width="0.75"/>
<rect x="820.26" y="103.8" width="4.7" height="4.5" fill="#ef5350"/>
<line x1="828.79" y1="103.4" x2="828.79" y2="116.6" stroke="#26a69a" stroke-width="0.75"/>
<rect x="826.44" y="107.3" width="4.7" height="1.0" fill="#26a69a"/>
<line x1="834.97" y1="103.2" x2="834.97" y2="111.9" stroke="#ef5350" stroke-width="0.75"/>
<rect x="832.62" y="107.3" width="4.7" height="1.4" fill="#ef5350"/>
<line x1="841.15" y1="100.9" x2="841.15" y2="110.9" stroke="#26a69a" stroke-width="0.75"/>
<rect x="838.80" y="101.3" width="4.7" height="7.4" fill="#26a69a"/>
<line x1="847.33" y1="94.2" x2="847.33" y2="105.5" stroke="#ef5350" stroke-width="0.75"/>
<rect x="844.98" y="100.9" width="4.7" height="1.3" fill="#ef5350"/>
<line x1="853.51" y1="87.5" x2="853.51" y2="103.8" stroke="#26a69a" stroke-width="0.75"/>
<rect x="851.16" y="96.8" width="4.7" height="5.1" fill="#26a69a"/>
<line x1="859.69" y1="96.1" x2="859.69" y2="112.8" stroke="#ef5350" stroke-width="0.75"/>
<rect x="857.34" y="96.5" width="4.7" height="15.0" fill="#ef5350"/>
<line x1="865.87" y1="108.3" x2="865.87" y2="111.9" stroke="#26a69a" stroke-width="0.75"/>
<rect x="863.52" y="109.6" width="4.7" height="1.9" fill="#26a69a"/>
<rect x="4.05" y="338" width="5.6" height="47.2" fill="#ef5350" fill-opacity="0.5"/>
<rect x="10.23" y="319.1" width="5.6" height="66.1" fill="#ef5350" fill-opacity="0.5"/>
<rect x="16.41" y="335.1" width="5.6" height="50.1" fill="#26a69a" fill-opacity="0.5"/>
<rect x="22.59" y="308" width="5.6" height="77.2" fill="#26a69a" fill-opacity="0.5"/>
<rect x="28.77" y="329.1" width="5.6" height="56.1" fill="#26a69a" fill-opacity="0.5"/>
<rect x="34.95" y="339.1" width="5.6" height="46.1" fill="#ef5350" fill-opacity="0.5"/>
<rect x="41.13" y="334.1" width="5.6" height="51.1" fill="#26a69a" fill-opacity="0.5"/>
<rect x="47.31" y="351.1" width="5.6" height="34.1" fill="#ef5350" fill-opacity="0.5"/>
<rect x="53.49" y="353.1" width="5.6" height="32.1" fill="#ef5350" fill-opacity="0.5"/>
<rect x="59.67" y="349.1" width="5.6" height="36.1" fill="#ef5350" fill-opacity="0.5"/>
<rect x="65.85" y="351.1" width="5.6" height="34.1" fill="#26a69a" fill-opacity="0.5"/>
<rect x="72.03" y="335" width="5.6" height="50.2" fill="#ef5350" fill-opacity="0.5"/>
<rect x="78.21" y="349.1" width="5.6" height="36.1" fill="#ef5350" fill-opacity="0.5"/>
<rect x="84.39" y="335.7" width="5.6" height="49.5" fill="#ef5350" fill-opacity="0.5"/>
<rect x="90.57" y="355.1" width="5.6" height="30.1" fill="#ef5350" fill-opacity="0.5"/>
<rect x="96.75" y="343.1" width="5.6" height="42.1" fill="#26a69a" fill-opacity="0.5"/>
<rect x="102.93" y="348.1" width="5.6" height="37.1" fill="#ef5350" fill-opacity="0.5"/>
<rect x="109.11" y="340" width="5.6" height="45.2" fill="#26a69a" fill-opacity="0.5"/>
<rect x="115.29" y="344.1" width="5.6" height="41.1" fill="#ef5350" fill-opacity="0.5"/>
<rect x="121.47" y="353.7" width="5.6" height="31.5" fill="#ef5350" fill-opacity="0.5"/>
<rect x="127.65" y="342" width="5.6" height="43.2" fill="#26a69a" fill-opacity="0.5"/>
<rect x="133.83" y="322.3" width="5.6" height="62.9" fill="#26a69a" fill-opacity="0.5"/>
<rect x="140.01" y="335.7" width="5.6" height="49.5" fill="#26a69a" fill-opacity="0.5"/>
<rect x="146.19" y="335.7" width="5.6" height="49.5" fill="#26a69a" fill-opacity="0.5"/>
<rect x="152.37" y="336.5" width="5.6" height="48.7" fill="#26a69a" fill-opacity="0.5"/>
<rect x="158.55" y="341.7" width="5.6" height="43.5" fill="#26a69a" fill-opacity="0.5"/>
<rect x="164.73" y="343.1" width="5.6" height="42.1" fill="#26a69a" fill-opacity="0.5"/>
<rect x="170.91" y="322.1" width="5.6" height="63.1" fill="#26a69a" fill-opacity="0.5"/>
<rect x="177.09" y="329.7" width="5.6" height="55.5" fill="#ef5350" fill-opacity="0.5"/>
<rect x="183.27" y="338.1" width="5.6" height="47.1" fill="#26a69a" fill-opacity="0.5"/>
<rect x="189.45" y="341.7" width="5.6" height="43.5" fill="#ef5350" fill-opacity="0.5"/>
<rect x="195.63" y="326.1" width="5.6" height="59.1" fill="#26a69a" fill-opacity="0.5"/>
<rect x="201.81" y="296" width="5.6" height="89.2" fill="#ef5350" fill-opacity="0.5"/>
<rect x="207.99" y="339.7" width="5.6" height="45.5" fill="#ef5350" fill-opacity="0.5"/>
<rect x="214.17" y="333.1" width="5.6" height="52.1" fill="#26a69a" fill-opacity="0.5"/>
<rect x="220.35" y="346.5" width="5.6" height="38.7" fill="#26a69a" fill-opacity="0.5"/>
<rect x="226.53" y="335.1" width="5.6" height="50.1" fill="#26a69a" fill-opacity="0.5"/>
<rect x="232.71" y="326.1" width="5.6" height="59.1" fill="#26a69a" fill-opacity="0.5"/>
<rect x="238.89" y="342.5" width="5.6" height="42.7" fill="#ef5350" fill-opacity="0.5"/>
<rect x="245.07" y="306" width="5.6" height="79.2" fill="#26a69a" fill-opacity="0.5"/>
<rect x="251.25" y="293.6" width="5.6" height="91.6" fill="#26a69a" fill-opacity="0.5"/>
<rect x="257.43" y="294.4" width="5.6" height="90.8" fill="#ef5350" fill-opacity="0.5"/>
<rect x="263.61" y="307.4" width="5.6" height="77.8" fill="#ef5350" fill-opacity="0.5"/>
<rect x="269.79" y="340.1" width="5.6" height="45.1" fill="#26a69a" fill-opacity="0.5"/>
<rect x="275.97" y="332.7" width="5.6" height="52.5" fill="#ef5350" fill-opacity="0.5"/>
<rect x="282.15" y="319.1" width="5.6" height="66.1" fill="#ef5350" fill-opacity="0.5"/>
<rect x="288.33" y="326.1" width="5.6" height="59.1" fill="#ef5350" fill-opacity="0.5"/>
<rect x="294.51" y="350.1" width="5.6" height="35.1" fill="#ef5350" fill-opacity="0.5"/>
<rect x="300.69" y="328.5" width="5.6" height="56.7" fill="#26a69a" fill-opacity="0.5"/>
<rect x="306.87" y="350.7" width="5.6" height="34.5" fill="#ef5350" fill-opacity="0.5"/>
<rect x="313.05" y="348.1" width="5.6" height="37.1" fill="#26a69a" fill-opacity="0.5"/>
<rect x="319.23" y="343.1" width="5.6" height="42.1" fill="#26a69a" fill-opacity="0.5"/>
<rect x="325.41" y="354.7" width="5.6" height="30.5" fill="#ef5350" fill-opacity="0.5"/>
<rect x="331.59" y="353.7" width="5.6" height="31.5" fill="#26a69a" fill-opacity="0.5"/>
<rect x="337.77" y="352.1" width="5.6" height="33.1" fill="#ef5350" fill-opacity="0.5"/>
<rect x="343.95" y="355.1" width="5.6" height="30.1" fill="#ef5350" fill-opacity="0.5"/>
<rect x="350.13" y="351.1" width="5.6" height="34.1" fill="#ef5350" fill-opacity="0.5"/>
<rect x="356.31" y="337.1" width="5.6" height="48.1" fill="#ef5350" fill-opacity="0.5"/>
<rect x="362.49" y="348.7" width="5.6" height="36.5" fill="#26a69a" fill-opacity="0.5"/>
<rect x="368.67" y="346.1" width="5.6" height="39.1" fill="#26a69a" fill-opacity="0.5"/>
<rect x="374.85" y="351.1" width="5.6" height="34.1" fill="#26a69a" fill-opacity="0.5"/>
<rect x="381.03" y="344.1" width="5.6" height="41.1" fill="#ef5350" fill-opacity="0.5"/>
<rect x="387.21" y="315.1" width="5.6" height="70.1" fill="#26a69a" fill-opacity="0.5"/>
<rect x="393.39" y="350.7" width="5.6" height="34.5" fill="#ef5350" fill-opacity="0.5"/>
<rect x="399.57" y="352.7" width="5.6" height="32.5" fill="#26a69a" fill-opacity="0.5"/>
<rect x="405.75" y="351.1" width="5.6" height="34.1" fill="#ef5350" fill-opacity="0.5"/>
<rect x="411.93" y="347.7" width="5.6" height="37.5" fill="#ef5350" fill-opacity="0.5"/>
<rect x="418.11" y="351.7" width="5.6" height="33.5" fill="#26a69a" fill-opacity="0.5"/>
<rect x="424.29" y="351.1" width="5.6" height="34.1" fill="#26a69a" fill-opacity="0.5"/>
<rect x="430.47" y="359.7" width="5.6" height="25.5" fill="#26a69a" fill-opacity="0.5"/>
<rect x="436.65" y="352.7" width="5.6" height="32.5" fill="#ef5350" fill-opacity="0.5"/>
<rect x="442.83" y="358.7" width="5.6" height="26.5" fill="#26a69a" fill-opacity="0.5"/>
<rect x="449.01" y="349.5" width="5.6" height="35.7" fill="#26a69a" fill-opacity="0.5"/>
<rect x="455.19" y="354.7" width="5.6" height="30.5" fill="#ef5350" fill-opacity="0.5"/>
<rect x="461.37" y="345.5" width="5.6" height="39.7" fill="#26a69a" fill-opacity="0.5"/>
<rect x="467.55" y="323.1" width="5.6" height="62.1" fill="#26a69a" fill-opacity="0.5"/>
<rect x="473.73" y="306" width="5.6" height="79.2" fill="#26a69a" fill-opacity="0.5"/>
<rect x="479.91" y="327.1" width="5.6" height="58.1" fill="#26a69a" fill-opacity="0.5"/>
<rect x="486.09" y="339.7" width="5.6" height="45.5" fill="#ef5350" fill-opacity="0.5"/>
<rect x="492.27" y="327.7" width="5.6" height="57.5" fill="#26a69a" fill-opacity="0.5"/>
<rect x="498.45" y="341.1" width="5.6" height="44.1" fill="#26a69a" fill-opacity="0.5"/>
<rect x="504.63" y="331.7" width="5.6" height="53.5" fill="#ef5350" fill-opacity="0.5"/>
<rect x="510.81" y="358.1" width="5.6" height="27.1" fill="#ef5350" fill-opacity="0.5"/>
<rect x="516.99" y="363.9" width="5.6" height="21.3" fill="#26a69a" fill-opacity="0.5"/>
<rect x="523.17" y="352.1" width="5.6" height="33.1" fill="#ef5350" fill-opacity="0.5"/>
<rect x="529.35" y="340.5" width="5.6" height="44.7" fill="#26a69a" fill-opacity="0.5"/>
<rect x="535.53" y="337.1" width="5.6" height="48.1" fill="#26a69a" fill-opacity="0.5"/>
<rect x="541.71" y="350.1" width="5.6" height="35.1" fill="#ef5350" fill-opacity="0.5"/>
<rect x="547.89" y="343.1" width="5.6" height="42.1" fill="#ef5350" fill-opacity="0.5"/>
<rect x="554.07" y="362.1" width="5.6" height="23.1" fill="#ef5350" fill-opacity="0.5"/>
<rect x="560.25" y="360.7" width="5.6" height="24.5" fill="#26a69a" fill-opacity="0.5"/>
<rect x="566.43" y="314.4" width="5.6" height="70.8" fill="#ef5350" fill-opacity="0.5"/>
<rect x="572.61" y="331.1" width="5.6" height="54.1" fill="#ef5350" fill-opacity="0.5"/>
<rect x="578.79" y="345.1" width="5.6" height="40.1" fill="#26a69a" fill-opacity="0.5"/>
<rect x="584.97" y="364.1" width="5.6" height="21.1" fill="#26a69a" fill-opacity="0.5"/>
<rect x="591.15" y="359.1" width="5.6" height="26.1" fill="#ef5350" fill-opacity="0.5"/>
<rect x="597.33" y="351.1" width="5.6" height="34.1" fill="#ef5350" fill-opacity="0.5"/>
<rect x="603.51" y="328.1" width="5.6" height="57.1" fill="#26a69a" fill-opacity="0.5"/>
<rect x="609.69" y="364.5" width="5.6" height="20.7" fill="#26a69a" fill-opacity="0.5"/>
<rect x="615.87" y="352.7" width="5.6" height="32.5" fill="#26a69a" fill-opacity="0.5"/>
<rect x="622.05" y="363.3" width="5.6" height="21.9" fill="#26a69a" fill-opacity="0.5"/>
<rect x="628.23" y="357.3" width="5.6" height="27.9" fill="#26a69a" fill-opacity="0.5"/>
<rect x="634.41" y="359.5" width="5.6" height="25.7" fill="#26a69a" fill-opacity="0.5"/>
<rect x="640.59" y="348.1" width="5.6" height="37.1" fill="#26a69a" fill-opacity="0.5"/>
<rect x="646.77" y="363.1" width="5.6" height="22.1" fill="#ef5350" fill-opacity="0.5"/>
<rect x="652.95" y="367.2" width="5.6" height="18.0" fill="#26a69a" fill-opacity="0.5"/>
<rect x="659.13" y="364.1" width="5.6" height="21.1" fill="#ef5350" fill-opacity="0.5"/>
<rect x="665.31" y="364.1" width="5.6" height="21.1" fill="#ef5350" fill-opacity="0.5"/>
<rect x="671.49" y="367.6" width="5.6" height="17.6" fill="#26a69a" fill-opacity="0.5"/>
<rect x="677.67" y="371.2" width="5.6" height="14.0" fill="#26a69a" fill-opacity="0.5"/>
<rect x="683.85" y="365.3" width="5.6" height="19.9" fill="#26a69a" fill-opacity="0.5"/>
<rect x="690.03" y="360.1" width="5.6" height="25.1" fill="#ef5350" fill-opacity="0.5"/>
<rect x="696.21" y="361.5" width="5.6" height="23.7" fill="#26a69a" fill-opacity="0.5"/>
<rect x="702.39" y="365.2" width="5.6" height="20.0" fill="#ef5350" fill-opacity="0.5"/>
<rect x="708.57" y="370.2" width="5.6" height="15.0" fill="#26a69a" fill-opacity="0.5"/>
<rect x="714.75" y="362.1" width="5.6" height="23.1" fill="#ef5350" fill-opacity="0.5"/>
<rect x="720.93" y="362.7" width="5.6" height="22.5" fill="#ef5350" fill-opacity="0.5"/>
<rect x="727.11" y="364.1" width="5.6" height="21.1" fill="#ef5350" fill-opacity="0.5"/>
<rect x="733.29" y="367.8" width="5.6" height="17.4" fill="#26a69a" fill-opacity="0.5"/>
<rect x="739.47" y="368.2" width="5.6" height="17.0" fill="#26a69a" fill-opacity="0.5"/>
<rect x="745.65" y="371.6" width="5.6" height="13.6" fill="#ef5350" fill-opacity="0.5"/>
<rect x="751.83" y="367.2" width="5.6" height="18.0" fill="#ef5350" fill-opacity="0.5"/>
<rect x="758.01" y="361.1" width="5.6" height="24.1" fill="#26a69a" fill-opacity="0.5"/>
<rect x="764.19" y="345.1" width="5.6" height="40.1" fill="#ef5350" fill-opacity="0.5"/>
<rect x="770.37" y="352.5" width="5.6" height="32.7" fill="#ef5350" fill-opacity="0.5"/>
<rect x="776.55" y="359.1" width="5.6" height="26.1" fill="#26a69a" fill-opacity="0.5"/>
<rect x="782.73" y="361.1" width="5.6" height="24.1" fill="#ef5350" fill-opacity="0.5"/>
<rect x="788.91" y="347.1" width="5.6" height="38.1" fill="#ef5350" fill-opacity="0.5"/>
<rect x="795.09" y="349.1" width="5.6" height="36.1" fill="#ef5350" fill-opacity="0.5"/>
<rect x="801.27" y="336.1" width="5.6" height="49.1" fill="#ef5350" fill-opacity="0.5"/>
<rect x="807.45" y="362.5" width="5.6" height="22.7" fill="#26a69a" fill-opacity="0.5"/>
<rect x="813.63" y="357.1" width="5.6" height="28.1" fill="#26a69a" fill-opacity="0.5"/>
<rect x="819.81" y="364.5" width="5.6" height="20.7" fill="#ef5350" fill-opacity="0.5"/>
<rect x="825.99" y="362.9" width="5.6" height="22.3" fill="#26a69a" fill-opacity="0.5"/>
<rect x="832.17" y="371.2" width="5.6" height="14.0" fill="#ef5350" fill-opacity="0.5"/>
<rect x="838.35" y="368.8" width="5.6" height="16.4" fill="#26a69a" fill-opacity="0.5"/>
<rect x="844.53" y="367.2" width="5.6" height="18.0" fill="#ef5350" fill-opacity="0.5"/>
<rect x="850.71" y="365.2" width="5.6" height="20.0" fill="#26a69a" fill-opacity="0.5"/>
<rect x="856.89" y="365.8" width="5.6" height="19.4" fill="#ef5350" fill-opacity="0.5"/>
<rect x="863.07" y="383.2" width="5.6" height="2.0" fill="#26a69a" fill-opacity="0.5"/>
<line x1="7" y1="109.3" x2="966.7" y2="109.3" stroke="#26a69a" stroke-width="0.8" stroke-dasharray="1 1.6" stroke-opacity="0.8"/>
</g>
<text x="877.7" y="40.4" font-size="8.45" fill="#787b86" textLength="54.9" lengthAdjust="spacingAndGlyphs" id="fib126199" stroke="#787b86" stroke-width="0.2">0 (126,199.00)</text>
<text x="877.7" y="60.5" font-size="8.45" fill="#f23645" textLength="71.2" lengthAdjust="spacingAndGlyphs" id="fib114017" stroke="#f23645" stroke-width="0.2">0.236 (114,017.47)</text>
<text x="877.7" y="74.1" font-size="8.45" fill="#ff9800" textLength="71.2" lengthAdjust="spacingAndGlyphs" id="fib106481" stroke="#ff9800" stroke-width="0.2">0.382 (106,481.45)</text>
<text x="877.7" y="85.8" font-size="8.45" fill="#4caf50" textLength="62.6" lengthAdjust="spacingAndGlyphs" id="fib100390" stroke="#4caf50" stroke-width="0.2">0.5 (100,390.68)</text>
<text x="877.7" y="98.2" font-size="8.45" fill="#089981" textLength="66.9" lengthAdjust="spacingAndGlyphs" id="fib94299" stroke="#089981" stroke-width="0.2">0.618 (94,299.92)</text>
<text x="877.7" y="117.3" font-size="8.45" fill="#00bcd4" textLength="66.9" lengthAdjust="spacingAndGlyphs" id="fib85628" stroke="#00bcd4" stroke-width="0.2">0.786 (85,628.53)</text>
<text x="877.7" y="144.7" font-size="8.45" fill="#787b86" textLength="50.3" lengthAdjust="spacingAndGlyphs" id="fib74582" stroke="#787b86" stroke-width="0.2">1 (74,582.37)</text>
<text x="877.7" y="186.1" font-size="8.45" fill="#ff9800" textLength="66.9" lengthAdjust="spacingAndGlyphs" id="fib60542" stroke="#ff9800" stroke-width="0.2">1.272 (60,542.64)</text>
<text x="877.7" y="211.6" font-size="8.45" fill="#f23645" textLength="66.9" lengthAdjust="spacingAndGlyphs" id="fib53213" stroke="#f23645" stroke-width="0.2">1.414 (53,213.08)</text>
<text x="877.7" y="255.4" font-size="8.45" fill="#2962ff" textLength="66.9" lengthAdjust="spacingAndGlyphs" id="fib42683" stroke="#2962ff" stroke-width="0.2">1.618 (42,683.29)</text>
<line x1="7" y1="385.5" x2="1017" y2="385.5" stroke="#e6e9f0" stroke-width="1"/>
<rect x="7" y="402.8" width="959.7" height="30.5" fill="#7e57c2" fill-opacity="0.1"/>
<line x1="8.5" y1="402.8" x2="966.7" y2="402.8" stroke="#989ba4" stroke-width="0.85" stroke-dasharray="2.9 3.25"/>
<line x1="8.5" y1="418.1" x2="966.7" y2="418.1" stroke="#b4b7bf" stroke-width="0.85" stroke-dasharray="2.9 3.25"/>
<line x1="8.5" y1="433.3" x2="966.7" y2="433.3" stroke="#989ba4" stroke-width="0.85" stroke-dasharray="2.9 3.25"/>
<g clip-path="url(#cr)">
<g clip-path="url(#c70)"><polygon points="6.8,402.8 6.8,414.0 13.0,417.7 19.2,416.2 25.4,408.6 31.6,408.2 37.8,409.6 43.9,409.3 50.1,409.6 56.3,412.1 62.5,413 68.6,412.3 74.8,421.4 81.0,421.6 87.2,422.4 93.4,422.7 99.5,419.9 105.7,420.6 111.9,415.2 118.1,415.5 124.3,418.1 130.4,410.1 136.6,402.3 142.8,401.5 149.0,399.0 155.2,398.4 161.3,398.2 167.5,395.4 173.7,392.5 179.9,399.7 186.1,398.2 192.2,400.4 198.4,398.6 204.6,402.3 210.8,405.2 217.0,405.5 223.1,404.5 229.3,398.2 235.5,395 241.7,395.7 247.9,390.2 254.0,388.4 260.2,389.6 266.4,392.1 272.6,390.6 278.8,393.5 284.9,401.0 291.1,401.9 297.3,405.2 303.5,404.1 309.7,408.5 315.9,404.5 322.0,402.7 328.2,403.3 334.4,402.3 340.6,406.7 346.8,412.1 352.9,413.3 359.1,421.4 365.3,416.5 371.5,410.1 377.6,410.1 383.8,419.6 390.0,419.2 396.2,419.4 402.4,414.5 408.6,419.9 414.7,422.5 420.9,418.6 427.1,415.0 433.3,413.3 439.4,416.5 445.6,416.2 451.8,411.1 458.0,412.1 464.2,411.4 470.4,403.8 476.5,400.1 482.7,397.5 488.9,398.4 495.1,397.2 501.2,395.7 507.4,404.9 513.6,406.3 519.8,404.2 526.0,407.4 532.1,404.8 538.3,404.2 544.5,408.2 550.7,409.6 556.9,410.1 563.0,409.6 569.2,411.6 575.4,422.8 581.6,421.1 587.8,418.4 594.0,420.6 600.1,423.5 606.3,419.6 612.5,418.1 618.7,412.6 624.9,412.3 631.0,406.7 637.2,406 643.4,404.8 649.6,407.7 655.8,407.4 661.9,407.7 668.1,412.6 674.3,407.7 680.5,407.1 686.6,402.3 692.8,404.2 699.0,403 705.2,408.6 711.4,406 717.5,407.4 723.7,411.4 729.9,415.5 736.1,413.7 742.3,411.4 748.4,411.5 754.6,413.7 760.8,407.1 767.0,413.7 773.2,418.4 779.4,414.8 785.5,417.4 791.7,420.6 797.9,425.7 804.1,429.4 810.2,426.9 816.4,426.5 822.6,427.6 828.8,427.4 835.0,427.6 841.1,424.7 847.3,425.0 853.5,422.8 859.7,427.2 865.9,426.1 865.9,402.8" fill="url(#gr)"/></g>
<polyline points="7,410.4 37.5,411.1 68.4,412.6 93.2,414.5 117.9,415.9 130.4,416.7 140,415.5 154.6,413 169.3,408.9 183.9,404.8 198.6,401.9 210.3,400.4 227.9,399.8 242.5,399.1 257.2,398.4 271.8,397.2 286.5,396.5 294.6,396.2 309.3,396.6 323.9,397.9 338.6,400.1 353.2,404.5 367.9,407.7 382.5,409.9 397.2,411.8 411.8,414.5 426.5,416.5 434.6,417 449.3,416.5 463.9,416.2 478.6,414 493.2,410.4 507.9,406.7 522.5,404.9 537.2,403.3 551.8,403 566.5,404.8 574.6,406.7 589.3,410.8 603.9,413.6 618.6,415.2 633.2,415.5 647.9,414.8 662.5,413.7 677.2,411.5 691.8,408.6 706.5,406.7 714.6,406.3 729.3,407.7 743.9,408.6 758.6,409.2 773.2,410.7 787.9,412.9 802.5,415.9 817.2,418.4 831.8,420.9 846.5,423.5 865.6,425.5" fill="none" stroke="#fbe04a" stroke-width="1.1" stroke-linejoin="round"/>
<polyline points="6.8,414.0 13.0,417.7 19.2,416.2 25.4,408.6 31.6,408.2 37.8,409.6 43.9,409.3 50.1,409.6 56.3,412.1 62.5,413 68.6,412.3 74.8,421.4 81.0,421.6 87.2,422.4 93.4,422.7 99.5,419.9 105.7,420.6 111.9,415.2 118.1,415.5 124.3,418.1 130.4,410.1 136.6,402.3 142.8,401.5 149.0,399.0 155.2,398.4 161.3,398.2 167.5,395.4 173.7,392.5 179.9,399.7 186.1,398.2 192.2,400.4 198.4,398.6 204.6,402.3 210.8,405.2 217.0,405.5 223.1,404.5 229.3,398.2 235.5,395 241.7,395.7 247.9,390.2 254.0,388.4 260.2,389.6 266.4,392.1 272.6,390.6 278.8,393.5 284.9,401.0 291.1,401.9 297.3,405.2 303.5,404.1 309.7,408.5 315.9,404.5 322.0,402.7 328.2,403.3 334.4,402.3 340.6,406.7 346.8,412.1 352.9,413.3 359.1,421.4 365.3,416.5 371.5,410.1 377.6,410.1 383.8,419.6 390.0,419.2 396.2,419.4 402.4,414.5 408.6,419.9 414.7,422.5 420.9,418.6 427.1,415.0 433.3,413.3 439.4,416.5 445.6,416.2 451.8,411.1 458.0,412.1 464.2,411.4 470.4,403.8 476.5,400.1 482.7,397.5 488.9,398.4 495.1,397.2 501.2,395.7 507.4,404.9 513.6,406.3 519.8,404.2 526.0,407.4 532.1,404.8 538.3,404.2 544.5,408.2 550.7,409.6 556.9,410.1 563.0,409.6 569.2,411.6 575.4,422.8 581.6,421.1 587.8,418.4 594.0,420.6 600.1,423.5 606.3,419.6 612.5,418.1 618.7,412.6 624.9,412.3 631.0,406.7 637.2,406 643.4,404.8 649.6,407.7 655.8,407.4 661.9,407.7 668.1,412.6 674.3,407.7 680.5,407.1 686.6,402.3 692.8,404.2 699.0,403 705.2,408.6 711.4,406 717.5,407.4 723.7,411.4 729.9,415.5 736.1,413.7 742.3,411.4 748.4,411.5 754.6,413.7 760.8,407.1 767.0,413.7 773.2,418.4 779.4,414.8 785.5,417.4 791.7,420.6 797.9,425.7 804.1,429.4 810.2,426.9 816.4,426.5 822.6,427.6 828.8,427.4 835.0,427.6 841.1,424.7 847.3,425.0 853.5,422.8 859.7,427.2 865.9,426.1" fill="none" stroke="#7e57c2" stroke-width="1.0" stroke-linejoin="round"/>
</g>
<line x1="966.5" y1="19" x2="966.5" y2="456.5" stroke="#6a6d76" stroke-width="0.9"/>
<line x1="7" y1="437.6" x2="1017" y2="437.6" stroke="#6a6d76" stroke-width="0.9"/>
<text x="972.8" y="66.8" font-size="7.5" fill="#33363f" textLength="37.3" lengthAdjust="spacingAndGlyphs">110,000.00</text>
<text x="972.8" y="95.9" font-size="7.5" fill="#33363f" textLength="33.6" lengthAdjust="spacingAndGlyphs">95,000.00</text>
<text x="972.8" y="142.8" font-size="7.5" fill="#33363f" textLength="33.6" lengthAdjust="spacingAndGlyphs">75,000.00</text>
<text x="972.8" y="165.2" font-size="7.5" fill="#33363f" textLength="33.6" lengthAdjust="spacingAndGlyphs">67,000.00</text>
<text x="972.8" y="188.7" font-size="7.5" fill="#33363f" textLength="33.6" lengthAdjust="spacingAndGlyphs">59,500.00</text>
<text x="972.8" y="215.4" font-size="7.5" fill="#33363f" textLength="33.6" lengthAdjust="spacingAndGlyphs">52,000.00</text>
<text x="972.8" y="239.7" font-size="7.5" fill="#33363f" textLength="33.6" lengthAdjust="spacingAndGlyphs">46,000.00</text>
<text x="972.8" y="267.4" font-size="7.5" fill="#33363f" textLength="33.6" lengthAdjust="spacingAndGlyphs">40,000.00</text>
<text x="972.8" y="288.3" font-size="7.5" fill="#33363f" textLength="33.6" lengthAdjust="spacingAndGlyphs">36,000.00</text>
<text x="972.8" y="311.7" font-size="7.5" fill="#33363f" textLength="33.6" lengthAdjust="spacingAndGlyphs">32,000.00</text>
<text x="972.8" y="338.2" font-size="7.5" fill="#33363f" textLength="33.6" lengthAdjust="spacingAndGlyphs">28,000.00</text>
<text x="972.8" y="359.1" font-size="7.5" fill="#33363f" textLength="33.6" lengthAdjust="spacingAndGlyphs">25,200.00</text>
<text x="972.8" y="378.9" font-size="7.5" fill="#33363f" textLength="33.6" lengthAdjust="spacingAndGlyphs">22,800.00</text>
<text x="972.8" y="398.0" font-size="7.5" fill="#33363f" textLength="18.9" lengthAdjust="spacingAndGlyphs">80.00</text>
<text x="972.8" y="428.6" font-size="7.5" fill="#33363f" textLength="18.9" lengthAdjust="spacingAndGlyphs">40.00</text>
<rect x="968.6" y="21.5" width="45.6" height="18" rx="3" fill="#fff" stroke="#f0f2f5" stroke-width="1"/>
<text x="975.6" y="33" font-size="8.4" fill="#131722" textLength="19" lengthAdjust="spacingAndGlyphs" id="usdt" stroke="#131722" stroke-width="0.25">USDT</text>
<path d="M930.5 103.5 H1008.4 a1.5 1.5 0 0 1 1.5 1.5 V122.1 a1.5 1.5 0 0 1 -1.5 1.5 H966.2 V114.5 H930.5 a1.5 1.5 0 0 1 -1.5 -1.5 V105 a1.5 1.5 0 0 1 1.5 -1.5 Z" fill="#22a69a"/>
<line x1="966.5" y1="103.5" x2="966.5" y2="123.6" stroke="#3c5a58" stroke-width="0.8"/>
<text x="932" y="111.7" font-size="7.4" fill="#fff" textLength="30.6" lengthAdjust="spacingAndGlyphs" id="tag1">BTCUSDT</text>
<text x="972.8" y="111.5" font-size="7.5" fill="#fff" textLength="33.6" lengthAdjust="spacingAndGlyphs">87,812.99</text>
<text x="972.8" y="120.5" font-size="7.5" fill="#fff" textLength="22.3" lengthAdjust="spacingAndGlyphs" fill-opacity="0.85">6d 13h</text>
<text x="32.9" y="450.1" font-size="8.3" fill="#3c3f49" textLength="10.2" lengthAdjust="spacingAndGlyphs">Jul</text>
<text x="87.3" y="450.1" font-size="8.3" fill="#3c3f49" textLength="12.5" lengthAdjust="spacingAndGlyphs">Sep</text>
<text x="142.9" y="450.1" font-size="8.3" fill="#3c3f49" textLength="12.5" lengthAdjust="spacingAndGlyphs">Nov</text>
<text x="189.6" y="450.1" font-size="8.2" fill="#33363f" textLength="18" lengthAdjust="spacingAndGlyphs" font-weight="bold">2024</text>
<text x="248.1" y="450.1" font-size="8.3" fill="#3c3f49" textLength="12.3" lengthAdjust="spacingAndGlyphs">Mar</text>
<text x="303.4" y="450.1" font-size="8.3" fill="#3c3f49" textLength="13.0" lengthAdjust="spacingAndGlyphs">May</text>
<text x="354.2" y="450.1" font-size="8.3" fill="#3c3f49" textLength="10.2" lengthAdjust="spacingAndGlyphs">Jul</text>
<text x="408.7" y="450.1" font-size="8.3" fill="#3c3f49" textLength="12.5" lengthAdjust="spacingAndGlyphs">Sep</text>
<text x="464.3" y="450.1" font-size="8.3" fill="#3c3f49" textLength="12.5" lengthAdjust="spacingAndGlyphs">Nov</text>
<text x="517.2" y="450.1" font-size="8.2" fill="#33363f" textLength="18" lengthAdjust="spacingAndGlyphs" font-weight="bold">2025</text>
<text x="569.5" y="450.1" font-size="8.3" fill="#3c3f49" textLength="12.3" lengthAdjust="spacingAndGlyphs">Mar</text>
<text x="624.7" y="450.1" font-size="8.3" fill="#3c3f49" textLength="13.0" lengthAdjust="spacingAndGlyphs">May</text>
<text x="681.8" y="450.1" font-size="8.3" fill="#3c3f49" textLength="10.2" lengthAdjust="spacingAndGlyphs">Jul</text>
<text x="730.0" y="450.1" font-size="8.3" fill="#3c3f49" textLength="12.5" lengthAdjust="spacingAndGlyphs">Sep</text>
<text x="785.7" y="450.1" font-size="8.3" fill="#3c3f49" textLength="12.5" lengthAdjust="spacingAndGlyphs">Nov</text>
<text x="838.5" y="450.1" font-size="8.2" fill="#33363f" textLength="18" lengthAdjust="spacingAndGlyphs" font-weight="bold">2026</text>
<text x="890.8" y="450.1" font-size="8.3" fill="#3c3f49" textLength="12.3" lengthAdjust="spacingAndGlyphs">Mar</text>
<text x="946.1" y="450.1" font-size="8.3" fill="#3c3f49" textLength="13.0" lengthAdjust="spacingAndGlyphs">May</text>
<text x="7.3" y="13.7" font-size="8.6" fill="#131722" textLength="54.4" lengthAdjust="spacingAndGlyphs">Jake_Simmons</text>
<text x="64.8" y="13.7" font-size="8.6" fill="#131722" textLength="29.4" lengthAdjust="spacingAndGlyphs">created</text>
<text x="96.9" y="13.7" font-size="8.6" fill="#131722" textLength="15.9" lengthAdjust="spacingAndGlyphs">with</text>
<text x="116.4" y="13.7" font-size="8.6" fill="#131722" textLength="65.9" lengthAdjust="spacingAndGlyphs">TradingView.com,</text>
<text x="186.3" y="13.7" font-size="8.6" fill="#131722" textLength="12.9" lengthAdjust="spacingAndGlyphs">Jan</text>
<text x="202.3" y="13.7" font-size="8.6" fill="#131722" textLength="10.7" lengthAdjust="spacingAndGlyphs">26,</text>
<text x="216.4" y="13.7" font-size="8.6" fill="#131722" textLength="17.2" lengthAdjust="spacingAndGlyphs">2026</text>
<text x="237" y="13.7" font-size="8.6" fill="#131722" textLength="20" lengthAdjust="spacingAndGlyphs">06:38</text>
<text x="260.9" y="13.7" font-size="8.6" fill="#131722" textLength="21.9" lengthAdjust="spacingAndGlyphs">UTC-5</text>
<text x="12.7" y="32.9" font-size="8.5" fill="#434651" textLength="127.8" lengthAdjust="spacingAndGlyphs" id="lg1">Bitcoin / TetherUS · 1W · Binance</text>
<text x="146.2" y="32.9" font-size="8.5" fill="#434651" textLength="4.7" lengthAdjust="spacingAndGlyphs">O</text>
<text x="151.6" y="32.9" font-size="8.5" fill="#8a8d96" textLength="36.9" lengthAdjust="spacingAndGlyphs">86,670.36</text>
<text x="194.7" y="32.9" font-size="8.5" fill="#434651" textLength="4.8" lengthAdjust="spacingAndGlyphs">H</text>
<text x="199.9" y="32.9" font-size="8.5" fill="#8a8d96" textLength="37.2" lengthAdjust="spacingAndGlyphs">88,424.45</text>
<text x="242.8" y="32.9" font-size="8.5" fill="#434651" textLength="3.4" lengthAdjust="spacingAndGlyphs">L</text>
<text x="246.6" y="32.9" font-size="8.5" fill="#8a8d96" textLength="37.6" lengthAdjust="spacingAndGlyphs">86,509.63</text>
<text x="289.6" y="32.9" font-size="8.5" fill="#434651" textLength="4.6" lengthAdjust="spacingAndGlyphs">C</text>
<text x="294.6" y="32.9" font-size="8.5" fill="#8a8d96" textLength="37.1" lengthAdjust="spacingAndGlyphs">87,812.99</text>
<text x="337.2" y="32.9" font-size="8.5" fill="#8a8d96" textLength="72.1" lengthAdjust="spacingAndGlyphs" id="chg">+1,142.63 (+1.32%)</text>
<text x="12.7" y="44.1" font-size="8.5" fill="#434651" textLength="34.3" lengthAdjust="spacingAndGlyphs" id="lg2">Vol · BTC</text>
<text x="52.7" y="44.1" font-size="8.5" fill="#26a69a" textLength="18" lengthAdjust="spacingAndGlyphs">9.3 K</text>
<text x="12.7" y="56.5" font-size="8.5" fill="#434651" textLength="76.3" lengthAdjust="spacingAndGlyphs" id="lg3">EMA 20/50/100/200</text>
<text x="94.1" y="56.5" font-size="8.4" fill="#ff1a1a" textLength="37.2" lengthAdjust="spacingAndGlyphs" font-weight="bold">95,995.52</text>
<text x="136.9" y="56.5" font-size="8.4" fill="#ff8f1a" textLength="36.8" lengthAdjust="spacingAndGlyphs" font-weight="bold">96,712.85</text>
<text x="179.6" y="56.5" font-size="8.4" fill="#1fe5f5" textLength="36.4" lengthAdjust="spacingAndGlyphs" font-weight="bold">86,231.21</text>
<text x="222.0" y="56.5" font-size="8.4" fill="#1a1aff" textLength="37.3" lengthAdjust="spacingAndGlyphs" font-weight="bold">68,113.60</text>
<text x="12.6" y="399.9" font-size="8.5" fill="#434651" textLength="53.7" lengthAdjust="spacingAndGlyphs" id="rsil">RSI (14, close)</text>
<text x="72.6" y="399.9" font-size="8.5" fill="#7e57c2" textLength="19.8" lengthAdjust="spacingAndGlyphs">39.94</text>
<text x="98.3" y="399.9" font-size="8.5" fill="#f7d43a" textLength="20.5" lengthAdjust="spacingAndGlyphs">40.72</text>
<circle cx="128.3" cy="397" r="2.7" fill="none" stroke="#50535e" stroke-width="0.7"/><line x1="125.9" y1="400.0" x2="130.70000000000002" y2="394.0" stroke="#50535e" stroke-width="0.7"/>
<circle cx="141.5" cy="397" r="2.7" fill="none" stroke="#50535e" stroke-width="0.7"/><line x1="139.1" y1="400.0" x2="143.9" y2="394.0" stroke="#50535e" stroke-width="0.7"/>
<g fill="#17181c">
<path d="M8.5 472.5 H18.5 V482.8 H12.6 V476.9 H8.5 Z"/>
<circle cx="20.9" cy="474.3" r="1.75"/>
<path d="M23.9 472.5 H29.2 L25.3 482.8 H20.3 Z"/>
<text x="34.9" y="482.8" font-size="14.3" font-weight="bold" id="tv" textLength="84.7" lengthAdjust="spacingAndGlyphs">TradingView</text>
</g>
</svg>
</body></html>
